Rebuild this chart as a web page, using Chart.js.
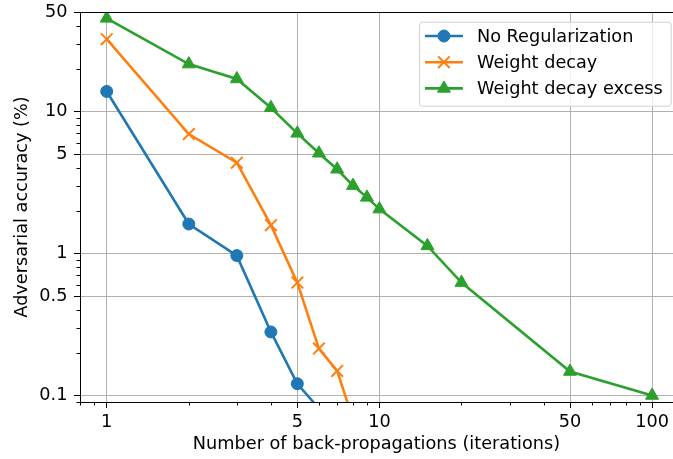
<!DOCTYPE html>
<html>
<head>
<meta charset="utf-8">
<script src="https://cdn.jsdelivr.net/npm/chart.js@4/dist/chart.umd.min.js"></script>
<style>
  html, body { margin: 0; padding: 0; background: #fff; }
</style>
</head>
<body>
<canvas id="attackChart" width="673" height="459"></canvas>
<script>
// accuracy under attack vs. number of back-propagation steps
let noRegIters = [1, 2, 3, 4, 5, 6];
let noRegAcc = [13.8, 1.61, 0.965, 0.28, 0.121, 0.081];

let decayIters = [1, 2, 3, 4, 5, 6, 7, 8];
let decayAcc = [32.2, 6.92, 4.35, 1.58, 0.623, 0.214, 0.149, 0.068];

let excessIters = [1, 2, 3, 4, 5, 6, 7, 8, 9, 10, 15, 20, 50, 100];
let excessAcc = [45.1, 21.5, 16.9, 10.6, 7.0, 5.07, 3.91, 3.0, 2.48, 2.05, 1.13, 0.623, 0.1475, 0.1];

let seriesLabels = ['No Regularization', 'Weight decay', 'Weight decay excess'];
let xTicks = [1, 5, 10, 50, 100];
let yTicks = [0.1, 0.5, 1, 5, 10, 50];

let FONT = 'DejaVu Sans';
let FONT_SIZE = 17.7;

Chart.defaults.font.family = FONT;
Chart.defaults.font.size = FONT_SIZE;
Chart.defaults.color = '#000';

let toPoints = (iters, acc) => iters.map((x, i) => ({ x: x, y: acc[i] }));

// 2..9 x 10^k style minor ticks that are not already major ticks
let minorValues = (min, max, majors) => {
  let values = [];
  for (let k = Math.floor(Math.log10(min)); k <= Math.ceil(Math.log10(max)); k++) {
    for (let m = 1; m <= 9; m++) {
      let v = m * Math.pow(10, k);
      if (v < min || v > max) continue;
      if (majors.some((t) => Math.abs(t / v - 1) < 1e-9)) continue;
      values.push(v);
    }
  }
  return values;
};

let frameAndMinorTicks = {
  id: 'frameAndMinorTicks',
  afterDraw(chart) {
    let ctx = chart.ctx;
    let area = chart.chartArea;
    let xs = chart.scales.x;
    let ys = chart.scales.y;

    ctx.save();
    ctx.strokeStyle = '#000';
    ctx.lineWidth = 1;
    ctx.beginPath();
    minorValues(xs.min, xs.max, xTicks).forEach((v) => {
      let px = Math.round(xs.getPixelForValue(v)) + 0.5;
      ctx.moveTo(px, area.bottom);
      ctx.lineTo(px, area.bottom + 3.5);
    });
    minorValues(ys.min, ys.max, yTicks).forEach((v) => {
      let py = Math.round(ys.getPixelForValue(v)) + 0.5;
      ctx.moveTo(area.left, py);
      ctx.lineTo(area.left - 3.5, py);
    });
    // top spine
    ctx.moveTo(area.left, Math.round(area.top) + 0.5);
    ctx.lineTo(area.right, Math.round(area.top) + 0.5);
    ctx.stroke();
    ctx.restore();
  },
};

let lineLegend = {
  id: 'lineLegend',
  afterDraw(chart) {
    let ctx = chart.ctx;
    let area = chart.chartArea;
    let sets = chart.data.datasets;

    ctx.save();
    ctx.font = FONT_SIZE + 'px "' + FONT + '"';
    let textW = Math.max(...sets.map((d) => ctx.measureText(d.label).width));
    let padL = 6, handle = 38, gap = 14, padR = 8, rowH = 26.2;
    let boxW = padL + handle + gap + textW + padR;
    let boxH = 84;
    let right = area.right - 2.3;
    let left = right - boxW;
    let top = area.top + 9.7;

    ctx.beginPath();
    ctx.roundRect(left + 0.5, top + 0.5, boxW, boxH, 3);
    ctx.fillStyle = 'rgba(255,255,255,0.8)';
    ctx.fill();
    ctx.strokeStyle = '#d0d0d0';
    ctx.lineWidth = 1;
    ctx.stroke();

    sets.forEach((d, i) => {
      let y = top + 14.3 + i * rowH;
      let x0 = left + padL;
      ctx.beginPath();
      ctx.strokeStyle = d.borderColor;
      ctx.lineWidth = d.borderWidth;
      ctx.moveTo(x0, y);
      ctx.lineTo(x0 + handle, y);
      ctx.stroke();

      ctx.fillStyle = d.pointBackgroundColor;
      ctx.strokeStyle = d.pointBorderColor;
      ctx.lineWidth = d.pointBorderWidth;
      Chart.helpers.drawPoint(ctx, {
        pointStyle: d.pointStyle,
        radius: d.pointRadius,
        borderWidth: d.pointBorderWidth,
        rotation: 0,
      }, x0 + handle / 2, y);

      ctx.fillStyle = '#000';
      ctx.textAlign = 'left';
      ctx.textBaseline = 'middle';
      ctx.fillText(d.label, x0 + handle + gap, y + 1);
    });
    ctx.restore();
  },
};

let makeSet = (label, points, color, style, radius) => ({
  label: label,
  data: points,
  borderColor: color,
  backgroundColor: color,
  borderWidth: 2.6,
  pointStyle: style,
  pointRadius: radius,
  pointHoverRadius: radius,
  pointBackgroundColor: color,
  pointBorderColor: color,
  pointBorderWidth: style === 'crossRot' ? 2 : 1,
  tension: 0,
  clip: 0,
});

let ctx = document.getElementById('attackChart').getContext('2d');

new Chart(ctx, {
  type: 'line',
  data: {
    datasets: [
      makeSet(seriesLabels[0], toPoints(noRegIters, noRegAcc), '#1f77b4', 'circle', 6),
      makeSet(seriesLabels[1], toPoints(decayIters, decayAcc), '#ff7f0e', 'crossRot', 8.2),
      makeSet(seriesLabels[2], toPoints(excessIters, excessAcc), '#2ca02c', 'triangle', 7.5),
    ],
  },
  options: {
    responsive: false,
    devicePixelRatio: 1,
    animation: false,
    layout: {
      autoPadding: false,
      padding: { top: 12, right: 0, left: 0, bottom: 0 },
    },
    plugins: {
      legend: { display: false },
      tooltip: { enabled: false },
    },
    scales: {
      x: {
        type: 'logarithmic',
        min: 0.798,
        max: 119.3,
        afterBuildTicks: (scale) => {
          scale.ticks = xTicks.map((v) => ({ value: v, major: true }));
        },
        afterFit: (scale) => {
          scale.height = 57;
          scale.paddingLeft = 0;
          scale.paddingRight = 0;
        },
        ticks: {
          autoSkip: false,
          maxRotation: 0,
          padding: 4,
          callback: (value) => String(value),
        },
        grid: {
          color: '#b0b0b0',
          lineWidth: 1,
          drawTicks: true,
          tickLength: 6,
          tickColor: '#000',
          tickWidth: 1,
        },
        border: { display: true, color: '#000', width: 1 },
        title: {
          display: true,
          text: 'Number of back-propagations (iterations)',
          padding: { top: 0, bottom: 4.4 },
        },
      },
      y: {
        type: 'logarithmic',
        min: 0.09,
        max: 50,
        afterBuildTicks: (scale) => {
          scale.ticks = yTicks.map((v) => ({ value: v, major: true }));
        },
        afterFit: (scale) => {
          scale.width = 80;
          scale.paddingTop = 0;
          scale.paddingBottom = 0;
        },
        ticks: {
          autoSkip: false,
          padding: 6.5,
          callback: (value) => String(value),
        },
        grid: {
          color: '#b0b0b0',
          lineWidth: 1,
          drawTicks: true,
          tickLength: 6,
          tickColor: '#000',
          tickWidth: 1,
        },
        border: { display: true, color: '#000', width: 1 },
        title: {
          display: true,
          text: 'Adversarial accuracy (%)',
          padding: { top: 11.4, bottom: 0 },
        },
      },
    },
  },
  plugins: [frameAndMinorTicks, lineLegend],
});
</script>
</body>
</html>
